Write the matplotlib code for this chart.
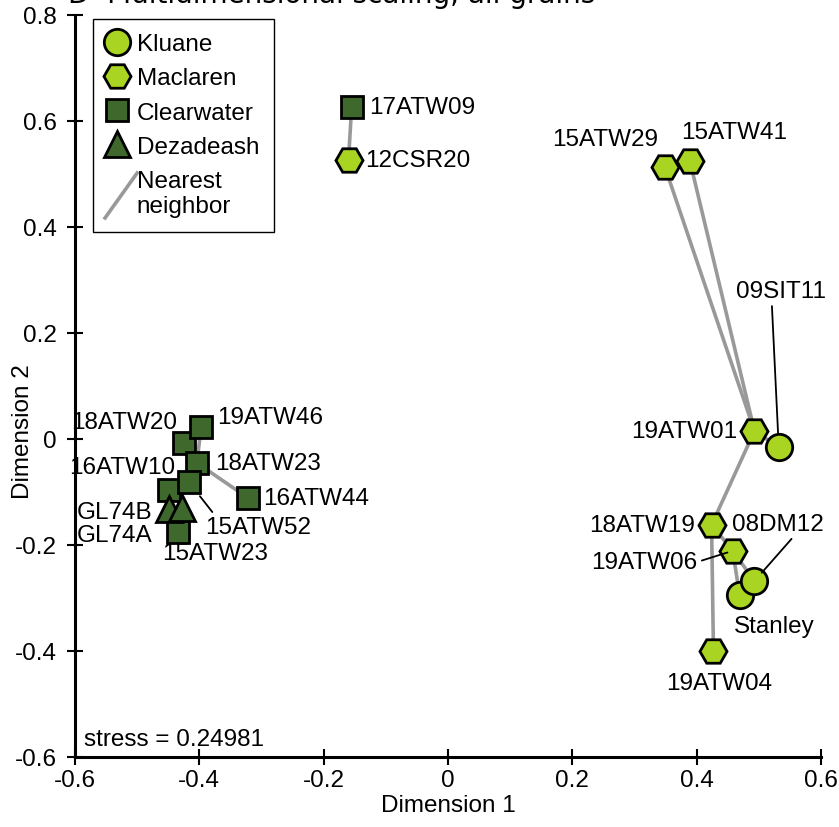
import matplotlib
matplotlib.use("Agg")
import matplotlib.pyplot as plt
from matplotlib.lines import Line2D
from matplotlib.legend_handler import HandlerBase

plt.rcParams['font.family'] = ['Liberation Sans', 'DejaVu Sans']

# ---- data: MDS coordinates of each sample ----
names = ["17ATW09", "12CSR20",
         "15ATW29", "15ATW41", "19ATW01", "09SIT11",
         "18ATW19", "19ATW06", "19ATW04", "Stanley", "08DM12",
         "18ATW20", "19ATW46", "18ATW23", "16ATW10", "15ATW52",
         "15ATW23", "16ATW44", "GL74B", "GL74A"]
groups = ["Clearwater", "Maclaren",
          "Maclaren", "Maclaren", "Maclaren", "Kluane",
          "Maclaren", "Maclaren", "Maclaren", "Kluane", "Kluane",
          "Clearwater", "Clearwater", "Clearwater", "Clearwater", "Clearwater",
          "Clearwater", "Clearwater", "Dezadeash", "Dezadeash"]
dim1 = [-0.155, -0.160,
        0.349, 0.389, 0.493, 0.532,
        0.424, 0.458, 0.427, 0.469, 0.493,
        -0.425, -0.397, -0.404, -0.449, -0.417,
        -0.434, -0.322, -0.448, -0.428]
dim2 = [0.627, 0.527,
        0.513, 0.525, 0.015, -0.015,
        -0.162, -0.211, -0.400, -0.294, -0.268,
        -0.008, 0.023, -0.045, -0.096, -0.081,
        -0.176, -0.111, -0.133, -0.130]

# nearest-neighbour links
neighbors = [("17ATW09", "12CSR20"), ("15ATW29", "19ATW01"), ("15ATW41", "19ATW01"),
             ("09SIT11", "19ATW01"), ("18ATW19", "19ATW01"), ("19ATW04", "18ATW19"),
             ("19ATW06", "18ATW19"), ("08DM12", "19ATW06"), ("Stanley", "19ATW06"),
             ("19ATW46", "18ATW23"), ("16ATW44", "18ATW23"), ("18ATW20", "19ATW46"),
             ("16ATW10", "15ATW52"), ("15ATW52", "18ATW23"), ("15ATW23", "GL74A"),
             ("GL74B", "GL74A")]

stress = 0.24981
x_ticks = [-0.6, -0.4, -0.2, 0, 0.2, 0.4, 0.6]
y_ticks = [-0.6, -0.4, -0.2, 0, 0.2, 0.4, 0.6, 0.8]

# ---- styling ----
LIME = "#a9d421"
DARK = "#3f682c"
GRAY = "#999999"
style = {
    "Kluane": dict(marker="o", mfc=LIME, ms=19),
    "Maclaren": dict(marker="H", mfc=LIME, ms=19.5),
    "Clearwater": dict(marker="s", mfc=DARK, ms=16),
    "Dezadeash": dict(marker="^", mfc=DARK, ms=19),
}

# label placement: offset in pixels (dx, dy), ha, leader-line (relpos, shrinkB) or None
label_pos = {
    "09SIT11": (2, 156, "center", ((0.4, 0.0), 10)),
    "08DM12": (23, 57, "center", ((0.69, 0.0), 8)),
    "19ATW06": (-35, -11, "right", ((1.0, 0.5), 4)),
    "Stanley": (35, -31, "center", None),
    "19ATW04": (6, -32, "center", None),
    "18ATW19": (-17, 0, "right", None),
    "19ATW01": (-17, 0, "right", None),
    "15ATW29": (-60, 28, "center", None),
    "15ATW41": (44, 29, "center", None),
    "17ATW09": (17, 0, "left", None),
    "12CSR20": (17, 0, "left", None),
    "19ATW46": (16, 10, "left", None),
    "18ATW20": (-7, 21, "right", None),
    "16ATW10": (6, 23, "right", None),
    "18ATW23": (18, 0, "left", None),
    "16ATW44": (15, 0, "left", None),
    "15ATW52": (16, -45, "left", ((0.1, 1.0), 13)),
    "GL74B": (-17, -3, "right", None),
    "GL74A": (-30, -27, "right", None),
    "15ATW23": (37, -21, "center", None),
}

FS = 17.5

fig = plt.figure(figsize=(8.39, 8.28), dpi=100)
ax = fig.add_axes([75 / 839, 70 / 828, 746 / 839, 742 / 828])

idx = {n: i for i, n in enumerate(names)}

# neighbour lines beneath the markers
for a, b in neighbors:
    ia, ib = idx[a], idx[b]
    ax.plot([dim1[ia], dim1[ib]], [dim2[ia], dim2[ib]], color=GRAY, lw=2.6,
            solid_capstyle="butt", zorder=1)

# sample markers
for i, n in enumerate(names):
    st = style[groups[i]]
    ax.plot(dim1[i], dim2[i], ls="none", marker=st["marker"], ms=st["ms"],
            mfc=st["mfc"], mec="black", mew=2, zorder=2 + i * 0.01)

# sample labels
for i, n in enumerate(names):
    dx, dy, ha, leader = label_pos[n]
    kw = {}
    if leader is not None:
        relpos, shrink = leader
        kw["arrowprops"] = dict(arrowstyle="-", color="black", lw=1.3,
                                shrinkA=1, shrinkB=shrink, relpos=relpos)
    ax.annotate(n, xy=(dim1[i], dim2[i]), xytext=(dx, dy),
                textcoords="offset pixels", ha=ha, va="center",
                fontsize=FS, zorder=5, **kw)

ax.text(0.012, 0.024, f"stress = {stress}", transform=ax.transAxes,
        fontsize=FS, ha="left", va="center")

# axes
ax.set_xlim(-0.6, 0.6)
ax.set_ylim(-0.6, 0.8)
ax.set_xticks(x_ticks)
ax.set_xticklabels(["-0.6", "-0.4", "-0.2", "0", "0.2", "0.4", "0.6"])
ax.set_yticks(y_ticks)
ax.set_yticklabels(["-0.6", "-0.4", "-0.2", "0", "0.2", "0.4", "0.6", "0.8"])
for s in ("top", "right"):
    ax.spines[s].set_visible(False)
for s in ("left", "bottom"):
    ax.spines[s].set_linewidth(2.2)
ax.tick_params(direction="inout", length=12, width=1.5, labelsize=FS)
ax.tick_params(axis="x", pad=3)
ax.tick_params(axis="y", pad=7)
ax.set_xlabel("Dimension 1", fontsize=FS)
ax.set_ylabel("Dimension 2", fontsize=FS)
ax.xaxis.set_label_coords(0.5, -0.05)
ax.yaxis.set_label_coords(-0.055, 0.44)


class DiagonalHandler(HandlerBase):
    def create_artists(self, legend, orig_handle, xdescent, ydescent,
                       width, height, fontsize, trans):
        x0 = -xdescent - 0.1 * fontsize
        x1 = width - xdescent + 0.45 * fontsize
        y0 = -ydescent - 0.65 * fontsize
        y1 = height - ydescent + 0.5 * fontsize
        return [Line2D([x0, x1], [y0, y1], color=GRAY, lw=2.6, transform=trans)]


nn_handle = Line2D([], [], color=GRAY)
handles = [Line2D([], [], ls="none", marker=style[g]["marker"], ms=style[g]["ms"],
                  mfc=style[g]["mfc"], mec="black", mew=2)
           for g in ["Kluane", "Maclaren", "Clearwater", "Dezadeash"]]
labels = ["Kluane", "Maclaren", "Clearwater", "Dezadeash"]
leg = ax.legend(handles + [nn_handle], labels + ["Nearest\nneighbor"],
                handler_map={nn_handle: DiagonalHandler()},
                loc="upper left", bbox_to_anchor=(0.024, 0.995), borderaxespad=0,
                fontsize=FS, frameon=True, fancybox=False, framealpha=1,
                edgecolor="black", handlelength=0.77, handletextpad=0.44,
                borderpad=0.6, labelspacing=0.5)
leg.get_frame().set_linewidth(1.0)

fig.text(68 / 839, 1 - 3 / 828, "D  Multidimensional scaling, all grains",
         fontsize=20, family="DejaVu Sans", ha="left", va="baseline")

fig.savefig("out.png", dpi=100)
